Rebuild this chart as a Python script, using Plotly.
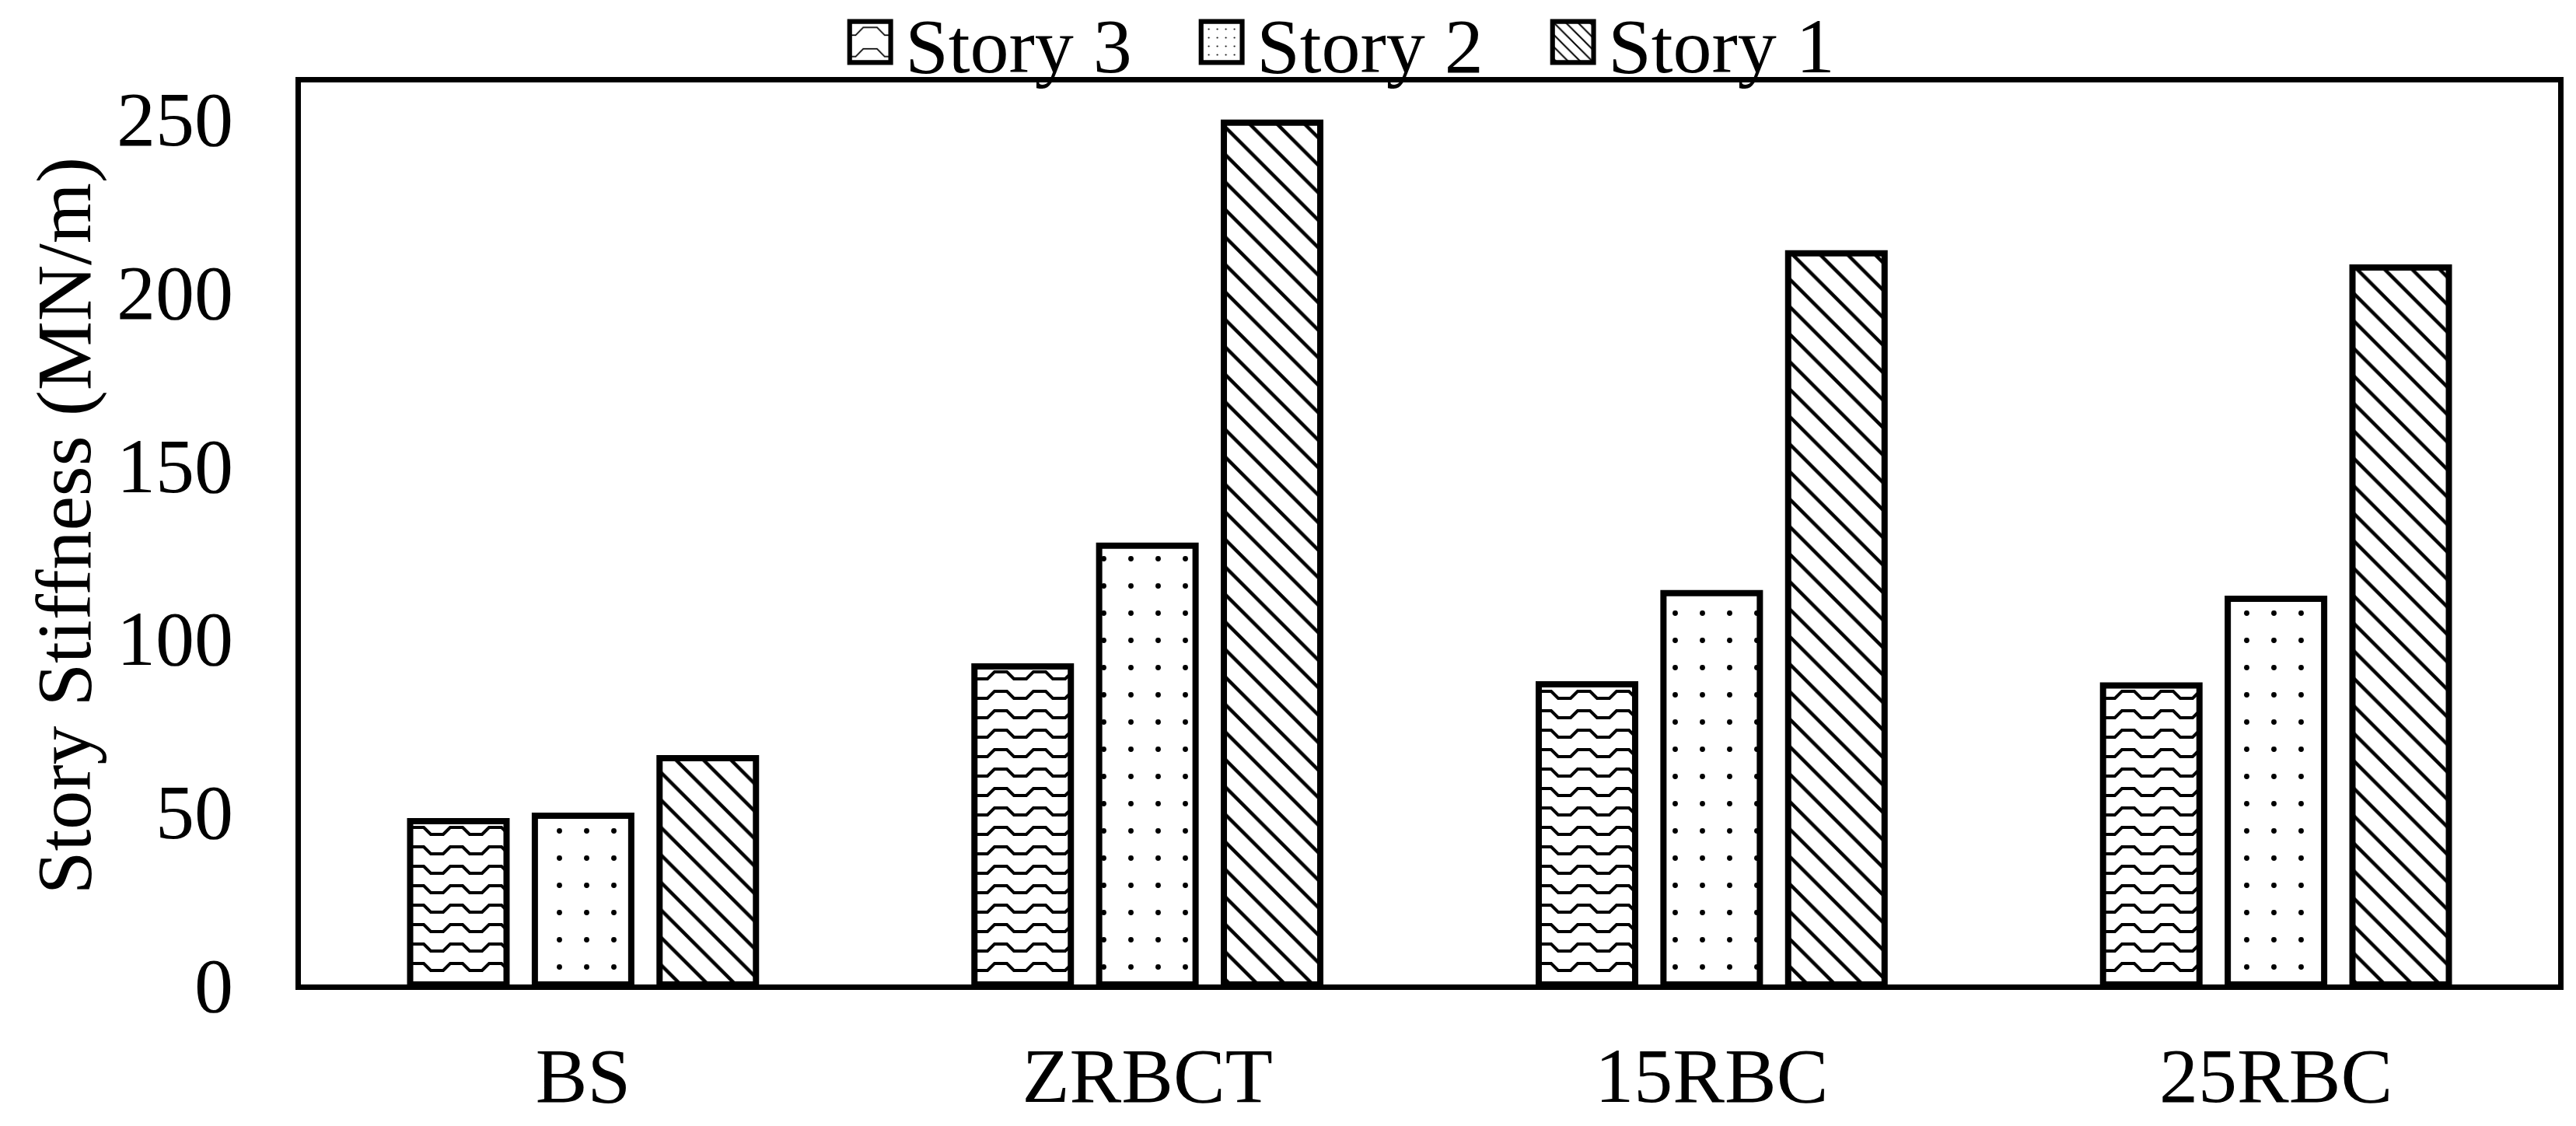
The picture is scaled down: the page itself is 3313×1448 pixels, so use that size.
import plotly.graph_objects as go

categories = ["BS", "ZRBCT", "15RBC", "25RBC"]
story3 = [47.1, 91.8, 86.6, 86.3]
story2 = [48.7, 126.6, 112.9, 111.3]
story1 = [65.3, 248.7, 211.0, 206.9]
series_names = ["Story 3", "Story 2", "Story 1"]
y_ticks = [0, 50, 100, 150, 200, 250]

FONT = "Liberation Serif, Times New Roman, serif"

fig = go.Figure()
shapes = ["-", ".", "\\"]
sizes = [25, 35, 25]
solid = [0.16, 0.03, 0.18]
for name, vals, shp, sz, so in zip(series_names, [story3, story2, story1], shapes, sizes, solid):
    fig.add_trace(go.Bar(
        x=categories, y=vals, name=name,
        marker=dict(color="white",
                    line=dict(color="black", width=8),
                    pattern=dict(shape=shp, size=sz, solidity=so,
                                 fgcolor="black", bgcolor="white", fillmode="replace")),
    ))

fig.update_layout(
    width=3313, height=1448,
    margin=dict(l=387, r=23, t=106, b=182, autoexpand=False),
    paper_bgcolor="white", plot_bgcolor="white",
    font=dict(family=FONT, size=100, color="black"),
    barmode="group", bargap=0.337, bargroupgap=0.227,
    legend=dict(orientation="h", x=0.2367, xanchor="left",
                yref="container", y=0.9627, yanchor="middle",
                font=dict(size=100), itemwidth=80, entrywidth=357, entrywidthmode="pixels",
                bgcolor="rgba(0,0,0,0)", traceorder="normal"),
    showlegend=True,
)
fig.update_xaxes(showline=True, linecolor="black", linewidth=7, mirror=True, automargin=False,
                 ticks="", ticklabelstandoff=24, showgrid=False)
fig.update_yaxes(range=[0, 260.3], tickvals=y_ticks, showline=True, linecolor="black",
                 linewidth=7, mirror=True, ticks="", ticklabelstandoff=60, automargin=False,
                 showgrid=False, zeroline=False)
fig.add_annotation(text="Story Stiffness (MN/m)", textangle=-90, xref="paper", yref="paper",
                   x=-0.105, y=0.5086, xanchor="center", yanchor="middle",
                   showarrow=False, font=dict(size=100))

# turn the first series' line pattern into a wave, and enlarge legend swatches
post = """
document.body.style.margin = '0';
try {
  function patId(el) {
    var f = (el.style && el.style.fill) || el.getAttribute('fill') || '';
    var m = f.match(/#([^"')\\s]+)/);
    return m ? m[1] : null;
  }
  var ids = {};
  var tr = document.querySelectorAll('.barlayer .trace');
  if (tr.length) tr[0].querySelectorAll('path').forEach(function(e){ var i = patId(e); if (i) ids[i] = 1; });
  var lg = document.querySelectorAll('.legend .traces');
  if (lg.length) lg[0].querySelectorAll('.legendpoints path').forEach(function(e){ var i = patId(e); if (i) ids[i] = 1; });
  Object.keys(ids).forEach(function(i){
    var p = document.getElementById(i);
    if (!p) return;
    p.setAttribute('width', 50);
    p.setAttribute('height', 25);
    p.querySelectorAll('rect').forEach(function(r){ r.setAttribute('width', 50); r.setAttribute('height', 25); });
    p.querySelectorAll('path').forEach(function(path){
      path.setAttribute('d', 'M0,8H8L17,17H33L42,8H50');
      path.style.fill = 'none';
      path.setAttribute('fill', 'none');
    });
  });
  document.querySelectorAll('.legend .legendpoints path').forEach(function(p, k){
    var i = patId(p);
    if (i) {
      var src = document.getElementById(i);
      if (src) {
        var c = src.cloneNode(true);
        c.id = i + '-lgclone' + k;
        c.setAttribute('patternTransform', 'scale(0.25)');
        src.parentNode.appendChild(c);
        p.style.fill = 'url(#' + c.id + ')';
      }
    }
    var t = p.getAttribute('transform') || '';
    p.setAttribute('transform', t + ' scale(4.4)');
    p.style.strokeWidth = '1.4px';
  });
} catch(e) {}
"""

fig.write_html("out.html", post_script=post, config={"displayModeBar": False})
